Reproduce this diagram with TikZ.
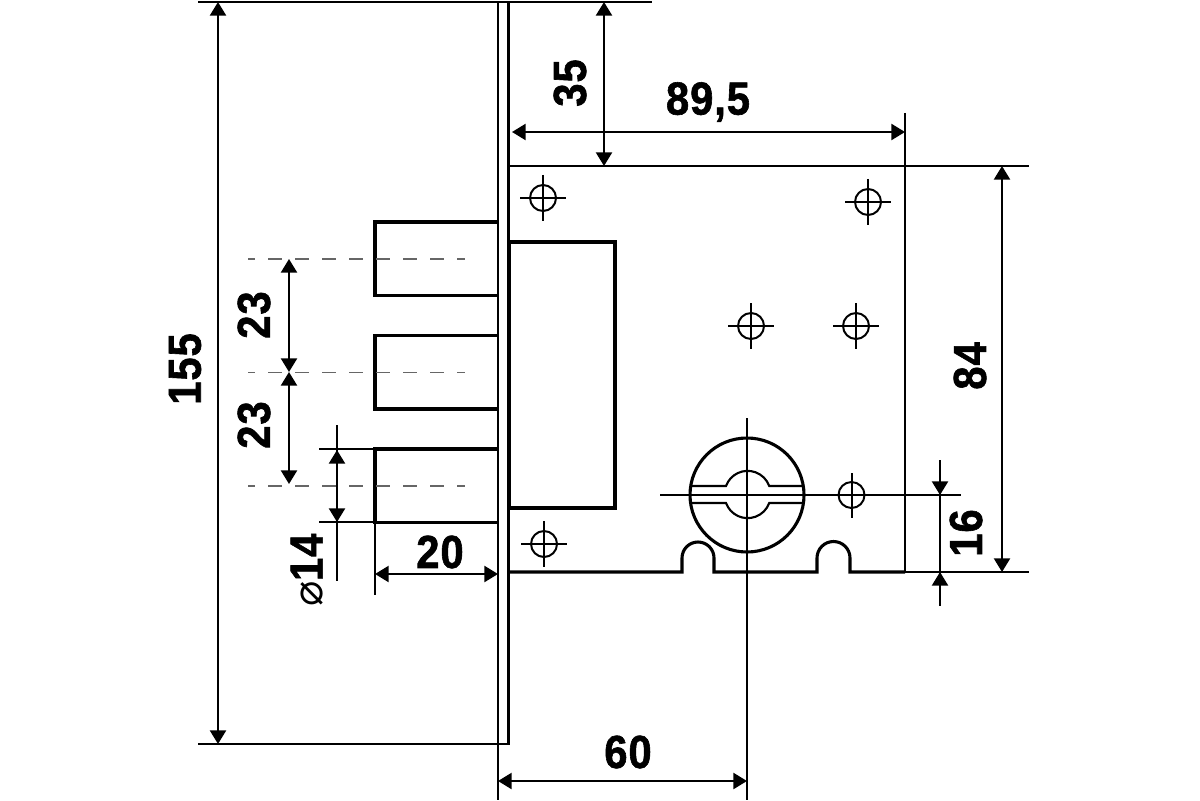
\documentclass[tikz,border=0pt]{standalone}
\usepackage{fontspec}
\setmainfont[FakeStretch=0.9,FakeBold=1.3,LetterSpace=2]{Liberation Sans Bold}
\newfontfamily\symbfont{DejaVu Sans}
\usetikzlibrary{arrows.meta}
\tikzset{
    thick line/.style={line width=2.2pt},
    plate line/.style={line width=2pt},
    thin line/.style={line width=1.5pt},
    center line/.style={line width=1.4pt},
    dash line/.style={line width=0.9pt, black!60, dash pattern=on 0.35cm off 0.325cm, dash phase=0.175cm},
    dim line/.style={line width=1.5pt, {Triangle[length=0.34cm,width=0.4cm]}-{Triangle[length=0.34cm,width=0.4cm]}},
    down tip/.style={line width=1.5pt, -{Triangle[length=0.34cm,width=0.4cm]}},
    dim label/.style={font=\fontsize{33pt}{33pt}\selectfont, inner sep=0pt},
}

\begin{document}
\begin{tikzpicture}[x=0.025cm, y=-0.025cm]
    \useasboundingbox (0, 0) rectangle (1200, 800);
    % 1. def point
    \coordinate (plateTL) at (498, 2);
    \coordinate (plateBL) at (498, 744);
    \coordinate (caseTL) at (509, 166);
    \coordinate (caseTR) at (1029, 166);
    \coordinate (caseBL) at (509, 572);
    \coordinate (caseBR) at (1029, 572);
    \coordinate (keyC) at (747, 495);
    % 2. face plate and case
    \draw[plate line] (plateTL) rectangle (509, 744);
    \draw[thick line] (508.6, 2) -- (508.6, 744);
    \draw[thin line] (plateTL) -- (198, 2);
    \draw[thin line] (509, 2) -- (652, 2);
    \draw[thin line] (plateBL) -- (198, 744);
    \draw[thin line] (plateBL) -- (498, 800);
    \draw[thin line] (caseTL) -- (caseTR);
    \draw[thin line] (905, 113) -- (905, 572);
    \draw[thick line] (509, 242) rectangle (615, 508);
    \draw[thick line] (caseBL) -- (682, 572) -- (682, 558)
        arc[start angle=180, end angle=360, radius=16] -- (714, 572)
        -- (817, 572) -- (817, 558)
        arc[start angle=180, end angle=360, radius=16.5] -- (850, 572) -- (905, 572);
    \draw[thin line] (905, 572) -- (caseBR);
    % 3. bolts
    \foreach \y/\name in {222/boltA, 335.5/boltB, 449/boltC} {
        \draw[thick line] (498, \y) -- (375, \y) -- (375, \y+73.5) -- (498, \y+73.5);
        \draw[dash line] (248, \y+37) -- (465, \y+37);
    }
    % 4. key hole
    \draw[thick line] (keyC) circle[radius=57];
    \draw[thin line] (691, 486) -- (726, 486)
        arc[start angle=200, end angle=340, radius=23] -- (804, 486);
    \draw[thin line] (691, 503) -- (726, 503)
        arc[start angle=160, end angle=20, radius=23] -- (804, 503);
    \draw[center line] (660, 495) -- (961, 495);
    \draw[center line] (747, 418) -- (747, 800);
    % 5. screw holes
    \foreach \x/\y in {543/198, 868/202, 751/326, 856/326, 544/544} {
        \draw[center line] (\x, \y) circle[radius=13];
        \draw[center line] (\x-23, \y) -- (\x+23, \y);
        \draw[center line] (\x, \y-23) -- (\x, \y+23);
    }
    \draw[center line] (851.5, 495) circle[radius=13];
    \draw[center line] (851.5, 473) -- (851.5, 518);
    % 6. dimensions
    \draw[dim line] (218, 2) -- (218, 744);
    \draw[dim line] (604, 2) -- (604, 166);
    \draw[dim line] (512, 132) -- (905, 132);
    \draw[dim line] (1002, 166) -- (1002, 572);
    \draw[dim line] (289, 259) -- (289, 372);
    \draw[dim line] (289, 372) -- (289, 484);
    \draw[dim line] (375, 574) -- (498, 574);
    \draw[dim line] (498, 781) -- (747, 781);
    \draw[thin line] (319, 449) -- (375, 449);
    \draw[thin line] (319, 522) -- (375, 522);
    \draw[thin line] (337, 425) -- (337, 581);
    \draw[thin line] (375, 522) -- (375, 595);
    \draw[dim line] (337, 450) -- (337, 522);
    \draw[thin line] (940, 460) -- (940, 606);
    \draw[down tip] (940, 470) -- (940, 495);
    \draw[down tip] (940, 600) -- (940, 572);
    % 7. labels
    \node[dim label, rotate=90] (lblHeight) at (185, 369) {155};
    \node[dim label, rotate=90] (lblTop) at (570, 83) {35};
    \node[dim label] (lblWidth) at (708, 102) {89,5};
    \node[dim label, rotate=90] (lblCase) at (970, 366) {84};
    \node[dim label, rotate=90] (lblKey) at (966, 533) {16};
    \node[dim label, rotate=90] (lblBoltA) at (254, 315) {23};
    \node[dim label, rotate=90] (lblBoltB) at (254, 425) {23};
    \node[dim label, rotate=90] (lblDia) at (307, 570) {{\symbfont\fontsize{30pt}{30pt}\selectfont ⌀}14};
    \node[dim label] (lblBolt) at (440, 552) {20};
    \node[dim label] (lblCenter) at (628, 752) {60};
\end{tikzpicture}
\end{document}
